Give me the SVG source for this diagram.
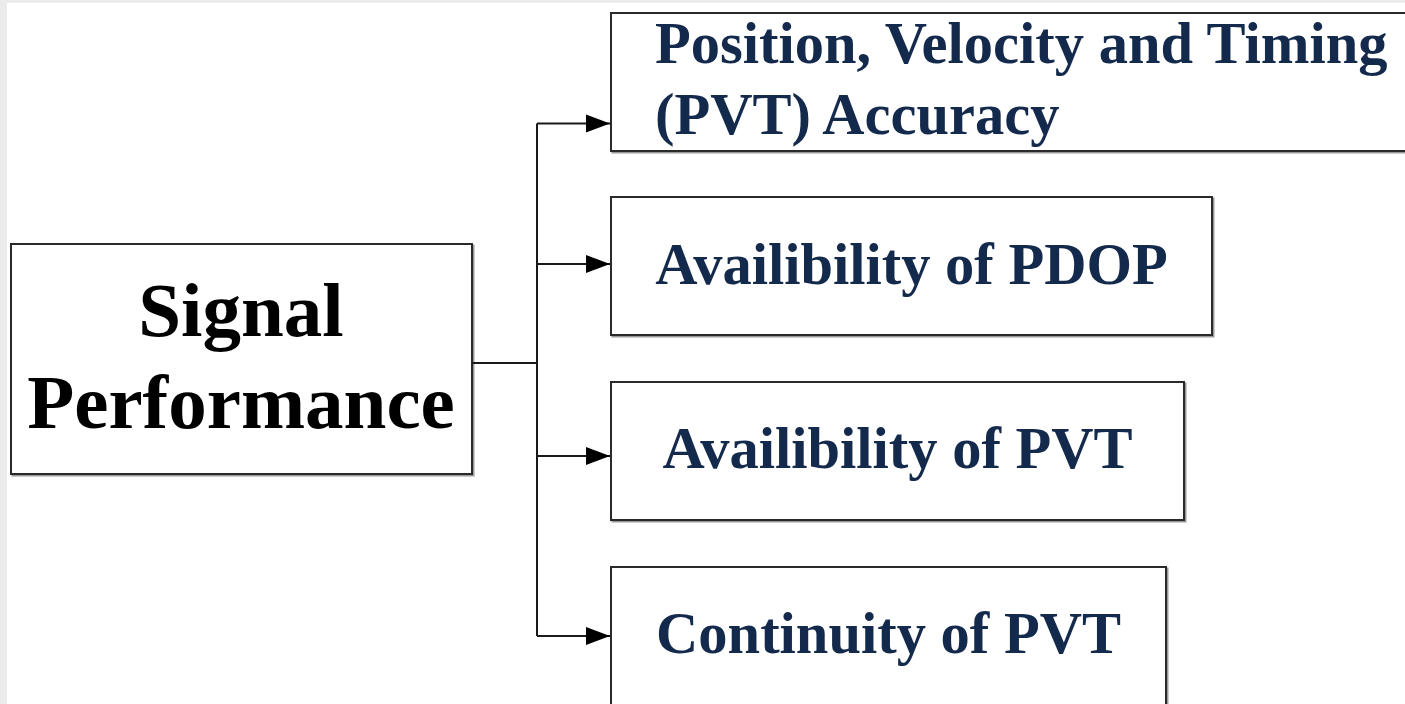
<svg xmlns="http://www.w3.org/2000/svg" width="1405" height="704" viewBox="0 0 1405 704">
  <style>
    .box { fill: #ffffff; stroke: #2a2a2a; stroke-width: 2; }
    .shadow { fill: none; stroke: #9a9a9a; stroke-width: 2; }
    .root-label { font-family: "Liberation Serif", "Times New Roman", serif; font-weight: bold; font-size: 77px; fill: #000000; text-anchor: middle; }
    .leaf-label { font-family: "Liberation Serif", "Times New Roman", serif; font-weight: bold; font-size: 58.5px; fill: #142a4c; }
    .link { fill: none; stroke: #1a1a1a; stroke-width: 2; }
  </style>
  <defs>
    <marker id="arrow" markerUnits="userSpaceOnUse" markerWidth="25" markerHeight="20" refX="24" refY="10" orient="auto">
      <path d="M0,1 L24,10 L0,19 z" fill="#000000"/>
    </marker>
  </defs>

  <!-- page background -->
  <rect x="0" y="0" width="1405" height="704" fill="#ebebeb"/>
  <rect x="7" y="3" width="1398" height="701" fill="#ffffff"/>

  <!-- root node -->
  <g id="signal-performance">
    <rect class="shadow" x="12.5" y="245.5" width="461" height="230"/>
    <rect class="box" x="11" y="244" width="461" height="230"/>
    <text class="root-label" x="241" y="336">Signal</text>
    <text class="root-label" x="241" y="428">Performance</text>
  </g>

  <!-- connectors -->
  <g id="connectors">
    <path class="link" d="M472,363 H537"/>
    <path class="link" d="M537,123.5 V636"/>
    <path class="link" d="M537,123.5 H610" marker-end="url(#arrow)"/>
    <path class="link" d="M537,264 H610" marker-end="url(#arrow)"/>
    <path class="link" d="M537,456 H610" marker-end="url(#arrow)"/>
    <path class="link" d="M537,636 H610" marker-end="url(#arrow)"/>
  </g>

  <!-- child nodes -->
  <g id="pvt-accuracy">
    <rect class="shadow" x="612.5" y="14.5" width="820" height="138"/>
    <rect class="box" x="611" y="13" width="820" height="138"/>
    <text class="leaf-label" x="655" y="63">Position, Velocity and Timing</text>
    <text class="leaf-label" x="655" y="134">(PVT) Accuracy</text>
  </g>

  <g id="pdop-availability">
    <rect class="shadow" x="612.5" y="198.5" width="601" height="138"/>
    <rect class="box" x="611" y="197" width="601" height="138"/>
    <text class="leaf-label" x="911.5" y="284" text-anchor="middle">Availibility of PDOP</text>
  </g>

  <g id="pvt-availability">
    <rect class="shadow" x="612.5" y="383.5" width="573" height="138"/>
    <rect class="box" x="611" y="382" width="573" height="138"/>
    <text class="leaf-label" x="897.5" y="468" text-anchor="middle">Availibility of PVT</text>
  </g>

  <g id="pvt-continuity">
    <rect class="shadow" x="612.5" y="568.5" width="555" height="150"/>
    <rect class="box" x="611" y="567" width="555" height="150"/>
    <text class="leaf-label" x="888.5" y="653" text-anchor="middle">Continuity of PVT</text>
  </g>
</svg>
